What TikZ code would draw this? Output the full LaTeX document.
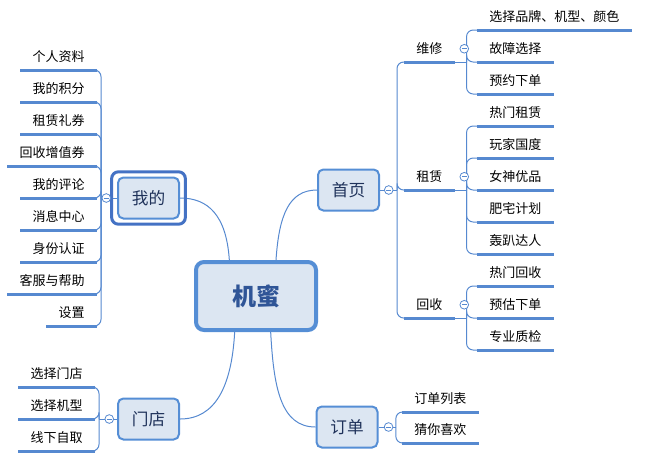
\documentclass[tikz,border=0pt]{standalone}
\usepackage{fontspec}
\setmainfont{Noto Sans CJK SC}
\usetikzlibrary{positioning,calc}
\definecolor{lineblue}{RGB}{86,137,208}
\definecolor{nodefill}{RGB}{220,230,242}
\definecolor{nodeborder}{RGB}{85,142,213}
\definecolor{selblue}{RGB}{68,114,196}
\definecolor{titleblue}{RGB}{47,85,151}
\definecolor{textnavy}{RGB}{31,50,90}

\begin{document}
\begin{tikzpicture}[x=0.75pt, y=-0.75pt,
	root/.style={draw=nodeborder, line width=3pt, fill=nodefill, rounded corners=6pt, minimum width=90pt, minimum height=51pt, text=titleblue, font=\fontsize{18pt}{22pt}\selectfont\bfseries},
	topic/.style={draw=nodeborder, line width=1.5pt, fill=nodefill, rounded corners=4pt, minimum width=45.75pt, minimum height=30.75pt, text=textnavy, font=\fontsize{12.5pt}{15pt}\selectfont},
	leaf/.style={inner xsep=9pt, inner ysep=3.75pt, text height=9.75pt, text depth=2.25pt, font=\fontsize{9.75pt}{12pt}\selectfont, append after command={(\tikzlastnode.south west) edge[underline] (\tikzlastnode.south east)}},
	underline/.style={draw=lineblue, line width=2.25pt},
	link/.style={draw=lineblue, line width=0.75pt},
	branch/.style={link, rounded corners=5pt},
	fold/.style={circle, draw=lineblue, fill=white, line width=0.6pt, minimum size=6.5pt, inner sep=0pt, path picture={\draw[lineblue, line width=0.5pt] ([xshift=1.5pt]path picture bounding box.west) -- ([xshift=-1.5pt]path picture bounding box.east);}},
	selframe/.style={draw=selblue, line width=2.25pt, rounded corners=5pt}]
	\useasboundingbox (0,0) rectangle (647,462);

	% Central topic and main branches
	\node[root] (jimi) at (256,296) {机蜜};
	\node[topic] (shouye) at (348.5,190) {首页};
	\node[topic] (wode) at (148.5,198) {我的};
	\node[topic] (mendian) at (148.5,419) {门店};
	\node[topic] (dingdan) at (347,427) {订单};

	% 首页
	\node[leaf, anchor=south west] (weixiu) at (404,62) {维修};
	\node[leaf, anchor=south west] (zulin) at (404,190) {租赁};
	\node[leaf, anchor=south west] (huishou) at (404,318) {回收};

	\node[leaf, anchor=south west] (pinpai) at (477,30) {选择品牌、机型、颜色};
	\node[leaf, anchor=south west] (guzhang) at (477,62) {故障选择};
	\node[leaf, anchor=south west] (yuyue) at (477,94) {预约下单};

	\node[leaf, anchor=south west] (remen) at (477,126) {热门租赁};
	\node[leaf, anchor=south west] (wanjia) at (477,158) {玩家国度};
	\node[leaf, anchor=south west] (nvshen) at (477,190) {女神优品};
	\node[leaf, anchor=south west] (feizhai) at (477,222) {肥宅计划};
	\node[leaf, anchor=south west] (hongpa) at (477,254) {轰趴达人};

	\node[leaf, anchor=south west] (rmhuishou) at (477,286) {热门回收};
	\node[leaf, anchor=south west] (yugu) at (477,318) {预估下单};
	\node[leaf, anchor=south west] (zhijian) at (477,350) {专业质检};

	% 订单
	\node[leaf, anchor=south west] (liebiao) at (402,412) {订单列表};
	\node[leaf, anchor=south west] (xihuan) at (402,443) {猜你喜欢};

	% 我的
	\node[leaf, anchor=south east] (ziliao) at (97,70) {个人资料};
	\node[leaf, anchor=south east] (jifen) at (97,102) {我的积分};
	\node[leaf, anchor=south east] (liquan) at (97,134) {租赁礼券};
	\node[leaf, anchor=south east] (zengzhi) at (97,166) {回收增值券};
	\node[leaf, anchor=south east] (pinglun) at (97,198) {我的评论};
	\node[leaf, anchor=south east] (xiaoxi) at (97,230) {消息中心};
	\node[leaf, anchor=south east] (renzheng) at (97,262) {身份认证};
	\node[leaf, anchor=south east] (kefu) at (97,294) {客服与帮助};
	\node[leaf, anchor=south east] (shezhi) at (97,326) {设置};

	% 门店
	\node[leaf, anchor=south east] (xzmendian) at (95,387) {选择门店};
	\node[leaf, anchor=south east] (xzjixing) at (95,419) {选择机型};
	\node[leaf, anchor=south east] (ziqu) at (95,451) {线下自取};

	% Junctions
	\coordinate (jshouye) at ([xshift=12.75pt]shouye.east);
	\coordinate (jwode) at ([xshift=-12pt]wode.west);
	\coordinate (jmendian) at ([xshift=-13.5pt]mendian.west);
	\coordinate (jdingdan) at ([xshift=13pt]dingdan.east);
	\coordinate (jweixiu) at ([xshift=9pt]weixiu.south east);
	\coordinate (jzulin) at ([xshift=9pt]zulin.south east);
	\coordinate (jhuishou) at ([xshift=9pt]huishou.south east);

	% Connectors
	\draw[link] ([xshift=15pt]jimi.north) .. controls +(3,-45) and +(-28,0) .. (shouye.west);
	\draw[link] ([xshift=-20pt]jimi.north) .. controls +(-3,-45) and +(28,0) .. (wode.east);
	\draw[link] ([xshift=-16pt]jimi.south) .. controls +(-3,55) and +(35,0) .. (mendian.east);
	\draw[link] ([xshift=11pt]jimi.south) .. controls +(3,55) and +(-35,0) .. (dingdan.west);

	\draw[link] (shouye.east) -- (jshouye);
	\foreach \c in {weixiu,zulin,huishou} \draw[branch] (jshouye) |- (\c.south west);
	\draw[link] (weixiu.south east) -- (jweixiu);
	\foreach \c in {pinpai,guzhang,yuyue} \draw[branch] (jweixiu) |- (\c.south west);
	\draw[link] (zulin.south east) -- (jzulin);
	\foreach \c in {remen,wanjia,nvshen,feizhai,hongpa} \draw[branch] (jzulin) |- (\c.south west);
	\draw[link] (huishou.south east) -- (jhuishou);
	\foreach \c in {rmhuishou,yugu,zhijian} \draw[branch] (jhuishou) |- (\c.south west);
	\draw[link] (dingdan.east) -- (jdingdan);
	\foreach \c in {liebiao,xihuan} \draw[branch] (jdingdan) |- (\c.south west);
	\draw[link] (wode.west) -- (jwode);
	\foreach \c in {ziliao,jifen,liquan,zengzhi,pinglun,xiaoxi,renzheng,kefu,shezhi} \draw[branch] (jwode) |- (\c.south east);
	\draw[link] (mendian.west) -- (jmendian);
	\foreach \c in {xzmendian,xzjixing,ziqu} \draw[branch] (jmendian) |- (\c.south east);

	% Selection frame and fold markers
	\draw[selframe] ([shift={(-4pt,3.5pt)}]wode.north west) rectangle ([shift={(4pt,-3.5pt)}]wode.south east);
	\node[fold, right=3pt of shouye] (fshouye) {};
	\node[fold, left=4.5pt of wode] (fwode) {};
	\node[fold, left=2.25pt of mendian] (fmendian) {};
	\node[fold, right=4pt of dingdan] (fdingdan) {};
	\node[fold, right=3.75pt of weixiu] (fweixiu) {};
	\node[fold, right=3.75pt of zulin] (fzulin) {};
	\node[fold, right=3.75pt of huishou] (fhuishou) {};
\end{tikzpicture}
\end{document}
